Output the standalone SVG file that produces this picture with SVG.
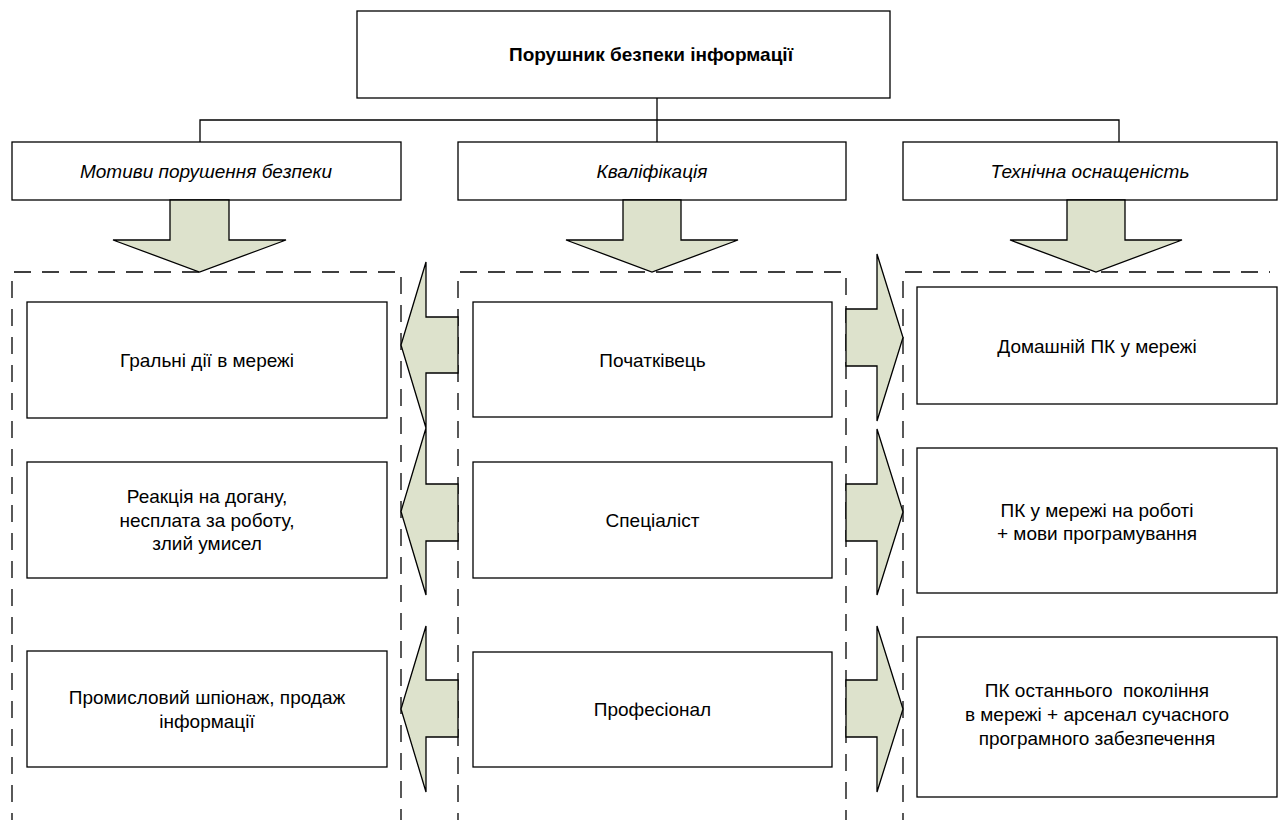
<svg xmlns="http://www.w3.org/2000/svg" width="1281" height="820" viewBox="0 0 1281 820">
<style>
.box{fill:#fff;stroke:#000;stroke-width:1.3}
.dash{fill:none;stroke:#000;stroke-width:1.3;stroke-dasharray:17 11}
.arr{fill:#dde2cc;stroke:#000;stroke-width:1.3;stroke-linejoin:miter}
.con{fill:none;stroke:#000;stroke-width:1.3}
text{font-family:"Liberation Sans",Arial,sans-serif;font-size:19px;fill:#000;text-anchor:middle}
.t{font-weight:bold;font-size:19px}
.c{font-style:italic;font-size:19px}
</style>
<rect width="1281" height="820" fill="#fff"/>
<g id="connectors">
<path class="con" d="M657,98 V142 M200,142 V120 H1119 V142"/>
</g>
<g id="containers">
<path class="dash" d="M12,830 V272 H401 V830"/>
<path class="dash" d="M458,830 V272 H846 V830"/>
<path class="dash" d="M903,830 V272 H1270"/>
</g>
<g id="top">
<rect class="box" x="357" y="11" width="533" height="87"/>
<text class="t" x="651" y="61">Порушник безпеки інформації</text>
</g>
<g id="cat-motives">
<rect class="box" x="12" y="142" width="389" height="58"/>
<text class="c" x="206" y="178">Мотиви порушення безпеки</text>
</g>
<g id="cat-qual">
<rect class="box" x="458" y="142" width="388" height="58"/>
<text class="c" x="652" y="178">Кваліфікація</text>
</g>
<g id="cat-tech">
<rect class="box" x="903" y="142" width="374" height="58"/>
<text class="c" x="1090" y="178">Технічна оснащеність</text>
</g>
<g id="arrows">
<polygon class="arr" points="170,200 229,200 229,240 286,240 199.5,272 113,240 170,240"/>
<polygon class="arr" points="623,200 681,200 681,240 738,240 652,272 566,240 623,240"/>
<polygon class="arr" points="1067,200 1125,200 1125,240 1182,240 1096,272 1010,240 1067,240"/>
<polygon class="arr" points="458,317 426,317 426,262 401,345 426,428 426,373 458,373"/>
<polygon class="arr" points="458,484 426,484 426,428 401,511.5 426,595 426,541 458,541"/>
<polygon class="arr" points="458,680 426,680 426,626 401,709 426,792 426,737 458,737"/>
<polygon class="arr" points="846,309 877,309 877,254 903,337.5 877,421 877,366 846,366"/>
<polygon class="arr" points="846,484 877,484 877,429 903,512 877,595 877,541 846,541"/>
<polygon class="arr" points="846,680 877,680 877,626 903,709 877,792 877,737 846,737"/>
</g>
<g id="m1">
<rect class="box" x="27" y="302" width="360" height="116"/>
<text x="207" y="367">Гральні дії в мережі</text>
</g>
<g id="m2">
<rect class="box" x="27" y="462" width="360" height="116"/>
<text x="207" y="503">Реакція на догану,</text>
<text x="207" y="527">несплата за роботу,</text>
<text x="207" y="550">злий умисел</text>
</g>
<g id="m3">
<rect class="box" x="27" y="651" width="360" height="116"/>
<text x="207" y="704">Промисловий шпіонаж, продаж</text>
<text x="207" y="728">інформації</text>
</g>
<g id="q1">
<rect class="box" x="473" y="302" width="359" height="115"/>
<text x="652.5" y="367">Початківець</text>
</g>
<g id="q2">
<rect class="box" x="473" y="462" width="359" height="116"/>
<text x="652.5" y="527">Спеціаліст</text>
</g>
<g id="q3">
<rect class="box" x="473" y="652" width="359" height="115"/>
<text x="652.5" y="716">Професіонал</text>
</g>
<g id="t1">
<rect class="box" x="917" y="287" width="360" height="117"/>
<text x="1097" y="353">Домашній ПК у мережі</text>
</g>
<g id="t2">
<rect class="box" x="917" y="448" width="360" height="145"/>
<text x="1097" y="517">ПК у мережі на роботі</text>
<text x="1097" y="540">+ мови програмування</text>
</g>
<g id="t3">
<rect class="box" x="917" y="637" width="360" height="160"/>
<text x="1097" y="697" xml:space="preserve">ПК останнього  покоління</text>
<text x="1097" y="721">в мережі + арсенал сучасного</text>
<text x="1097" y="745">програмного забезпечення</text>
</g>
</svg>
